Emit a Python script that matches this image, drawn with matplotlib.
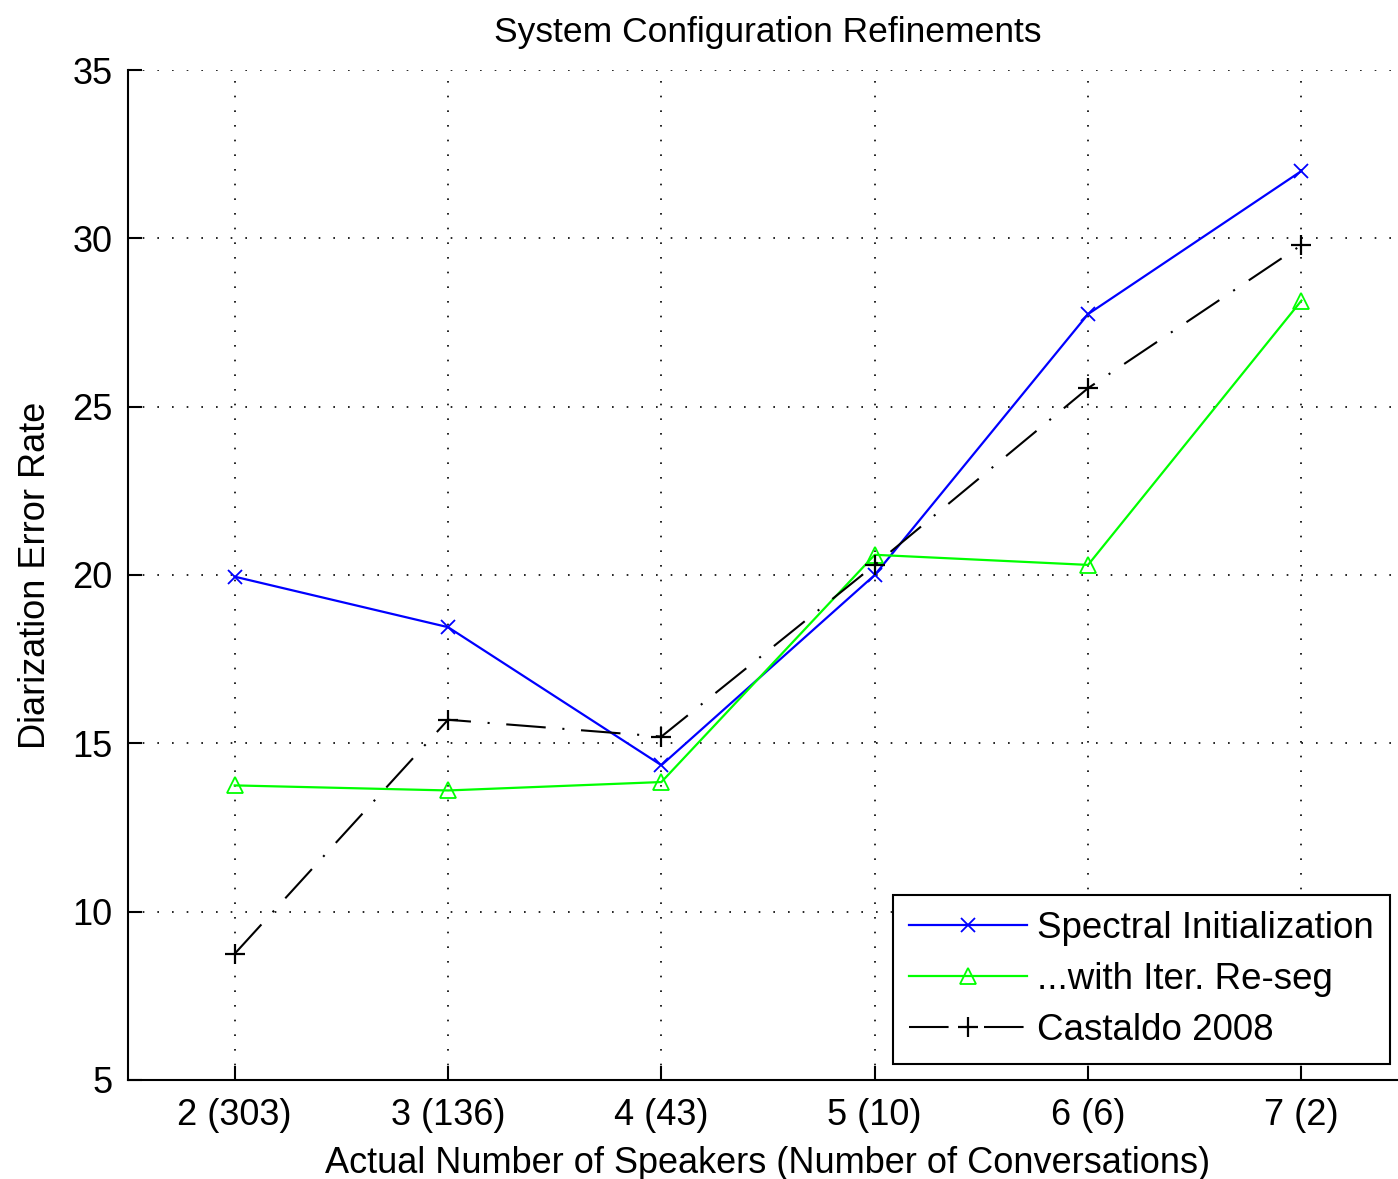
import matplotlib.pyplot as plt

# speakers per conversation (with number of conversations) and DER per system
speakers = [2, 3, 4, 5, 6, 7]
tick_labels = ["2 (303)", "3 (136)", "4 (43)", "5 (10)", "6 (6)", "7 (2)"]
spectral = [19.95, 18.45, 14.35, 20.0, 27.75, 32.0]
reseg = [13.75, 13.6, 13.85, 20.6, 20.3, 28.15]
castaldo = [8.75, 15.7, 15.2, 20.3, 25.55, 29.8]

plt.rcParams['font.family'] = ['Liberation Sans', 'DejaVu Sans']
plt.rcParams['font.size'] = 26

fig = plt.figure(figsize=(13.98, 11.79), dpi=100)
ax = fig.add_axes([0.0916, 0.084, 0.9156, 0.8566])

ax.plot(speakers, spectral, color='#0000ff', lw=1.6, marker='x', ms=10, mew=1.3,
        label='Spectral Initialization', zorder=3)
ax.plot(speakers, reseg, color='#00ff00', lw=1.6, marker='^', ms=11, mew=1.3,
        mfc='none', label='...with Iter. Re-seg', zorder=3)
ax.plot(speakers, castaldo, color='black', lw=1.5, ls=(0, (19, 8, 1, 8)),
        marker='+', ms=15, mew=1.6, label='Castaldo 2008', zorder=3)

ax.set_xlim(1.5, 7.5)
ax.set_ylim(5, 35)
ax.set_xticks(speakers)
ax.set_xticklabels(tick_labels)
ax.set_yticks(range(5, 36, 5))

# dotted grid, only left and bottom axis lines
ax.grid(True, color='black', lw=1.2, ls=(0, (1, 7.8)))
ax.set_axisbelow(True)
for side in ['top', 'right']:
    ax.spines[side].set_visible(False)
for side in ['left', 'bottom']:
    ax.spines[side].set_linewidth(1.5)
ax.tick_params(direction='in', length=10, width=1.5, colors='black')
ax.tick_params(axis='y', pad=11)
ax.tick_params(axis='x', pad=13)

ax.set_title('System Configuration Refinements', fontsize=25.5, pad=20)
ax.set_xlabel('Actual Number of Speakers (Number of Conversations)', labelpad=9)
ax.set_ylabel('Diarization Error Rate', labelpad=14)

leg = ax.legend(loc='upper left', bbox_to_anchor=(893 / 1398, 1 - 895 / 1179),
                bbox_transform=fig.transFigure, borderaxespad=0, numpoints=1,
                fancybox=False, framealpha=1, edgecolor='black',
                prop={'size': 26.5},
                handlelength=3.2, handletextpad=0.28, labelspacing=0.43,
                borderpad=0.44)
leg.get_frame().set_linewidth(1.5)

fig.savefig('out.png', dpi=100)
